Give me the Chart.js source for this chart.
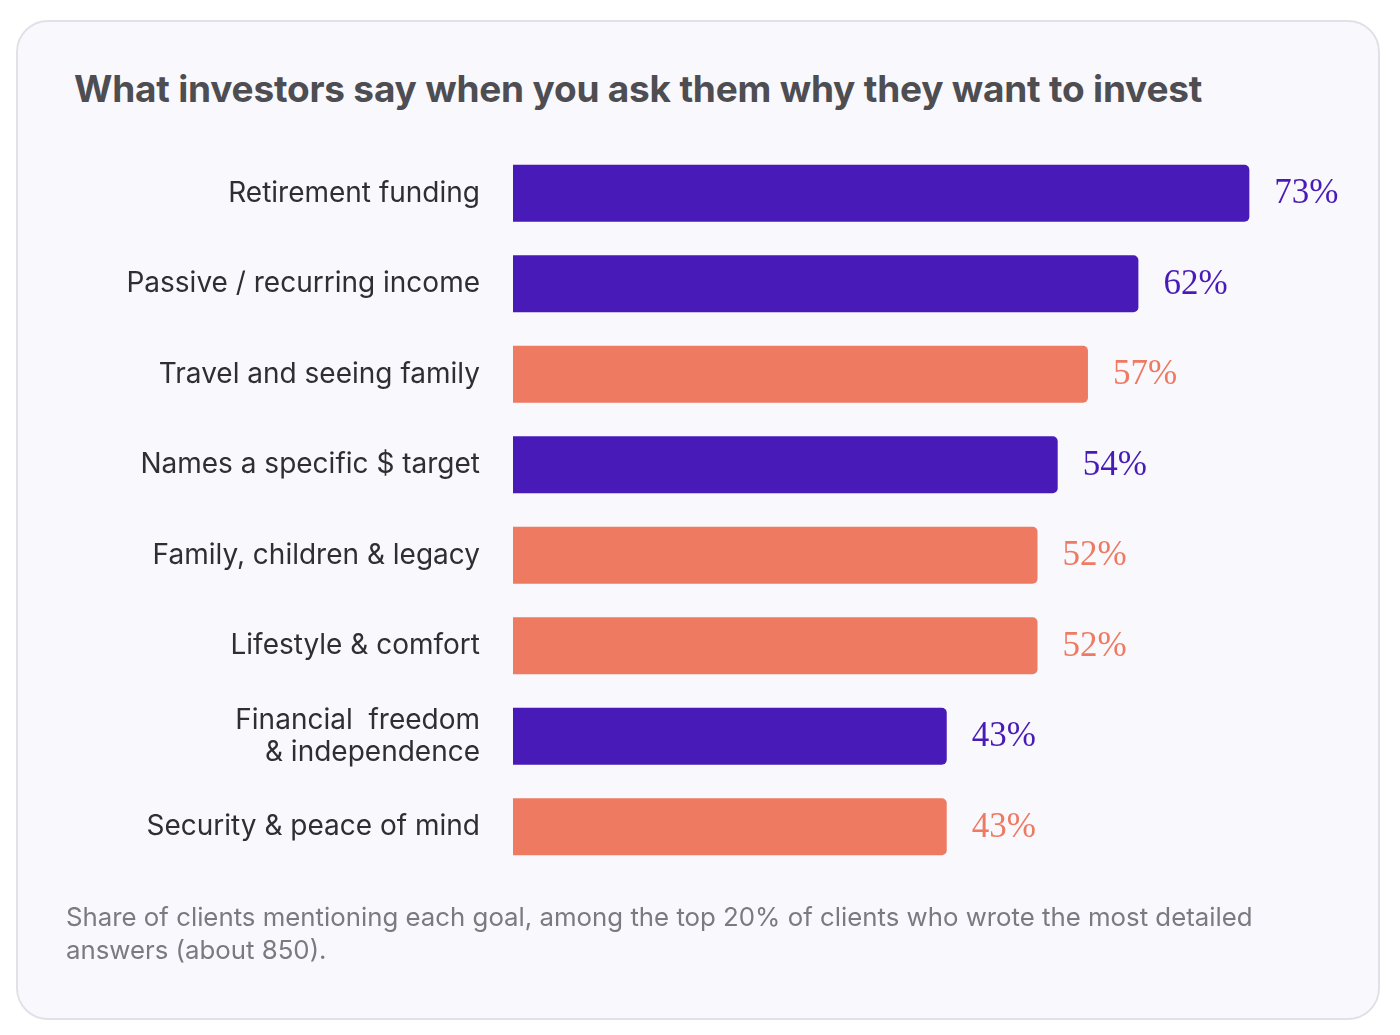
<!DOCTYPE html>
<html>
<head>
<meta charset="utf-8">
<script src="https://cdn.jsdelivr.net/npm/chart.js@4"></script>
<style>
  body { margin: 0; background: #fff; width: 1400px; height: 1035px; position: relative; overflow: hidden; }
  .card {
    position: absolute; left: 16px; top: 20px; width: 1360px; height: 996px;
    border: 2px solid #e2e1e8; border-radius: 32px; background: #f9f8fd;
  }
  h1 {
    position: absolute; left: 74px; top: 66px; margin: 0;
    font: 700 37px Inter, "Noto Sans", sans-serif; color: #4d4d52; letter-spacing: -0.2px;
  }
  .note {
    position: absolute; left: 66px; top: 900px; width: 1240px; margin: 0;
    font: 400 25.8px/33px Inter, "Noto Sans", sans-serif; color: #7a7a80;
  }
  #wrap { position: absolute; left: 0; top: 0; width: 1400px; height: 1035px; }
</style>
</head>
<body>
<div class="card"></div>
<h1>What investors say when you ask them why they want to invest</h1>
<div id="wrap"><canvas id="myChart" width="1400" height="1035"></canvas></div>
<p class="note">Share of clients mentioning each goal, among the top 20% of clients who wrote the most detailed answers (about 850).</p>
<script>
const categories = [
  "Retirement funding",
  "Passive / recurring income",
  "Travel and seeing family",
  "Names a specific $ target",
  "Family, children & legacy",
  "Lifestyle & comfort",
  ["Financial  freedom", "& independence"],
  "Security & peace of mind",
];
const shares = [73, 62, 57, 54, 52, 52, 43, 43];
const groups = ["purple", "purple", "coral", "purple", "coral", "coral", "purple", "coral"];

const purple = "#481bb8";
const coral = "#ee7a62";
const barColors = groups.map((g) => (g == "purple" ? purple : coral));

// percentages printed after each bar
const valueLabels = {
  id: "valueLabels",
  afterDatasetsDraw(chart) {
    const ctx = chart.ctx;
    const meta = chart.getDatasetMeta(0);
    ctx.save();
    ctx.font = '35px "Liberation Serif", "DejaVu Serif", serif';
    ctx.textBaseline = "middle";
    ctx.textAlign = "left";
    meta.data.forEach((bar, i) => {
      ctx.fillStyle = barColors[i];
      ctx.fillText(shares[i] + "%", bar.x + 25, bar.y + 1);
    });
    ctx.restore();
  },
};

new Chart(document.getElementById("myChart"), {
  type: "bar",
  data: {
    labels: categories,
    datasets: [
      {
        data: shares,
        backgroundColor: barColors,
        borderRadius: 5,
        borderSkipped: "start",
        categoryPercentage: 1,
        barPercentage: 0.63,
      },
    ],
  },
  options: {
    indexAxis: "y",
    responsive: false,
    animation: false,
    devicePixelRatio: 1,
    layout: { padding: { top: 148, bottom: 163, right: 75, left: 0 } },
    plugins: {
      legend: { display: false },
      tooltip: { enabled: false },
    },
    scales: {
      x: { display: false, min: 0, max: 80.5 },
      y: {
        grid: { display: false },
        border: { display: false },
        afterFit: (scale) => {
          scale.width = 513;
        },
        ticks: {
          padding: 25,
          color: "#2f2f33",
          font: { family: "Inter, 'Noto Sans', sans-serif", size: 28, lineHeight: 1.15 },
        },
      },
    },
  },
  plugins: [valueLabels],
});
</script>
</body>
</html>
